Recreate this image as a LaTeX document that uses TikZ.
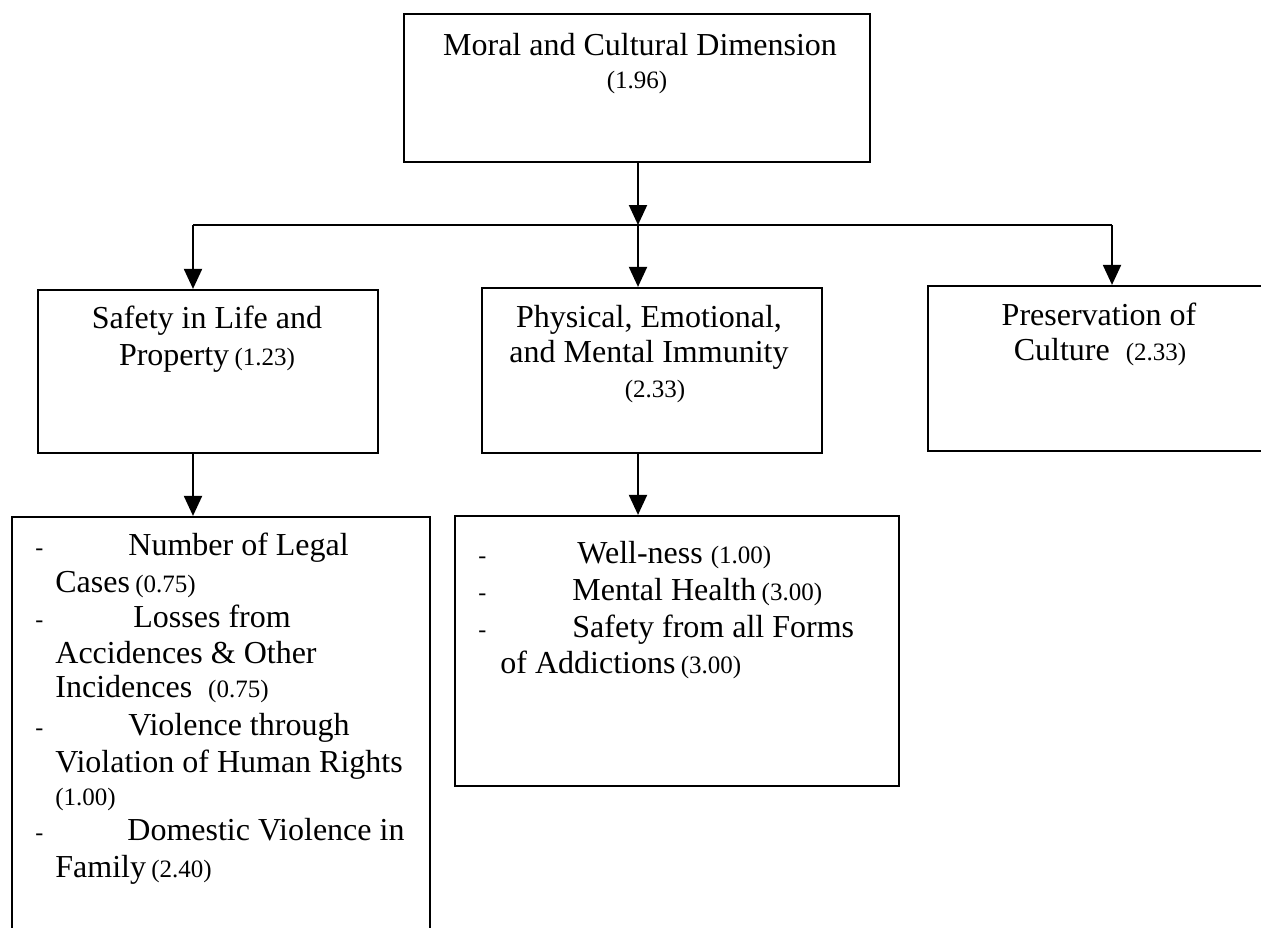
\documentclass[tikz,border=0pt]{standalone}
\usepackage{fontspec}
\setmainfont{Liberation Serif}
\usetikzlibrary{arrows.meta}
\newcommand\nm[1]{{\fontsize{12.5}{14}\selectfont #1}}
\begin{document}
\begin{tikzpicture}[x=0.5pt,y=-0.5pt,
  box/.style={draw,line width=1.1pt,inner sep=0pt},
  arr/.style={line width=1pt,-{Triangle[width=9pt,length=10pt]}},
  ln/.style={line width=1pt},
  tx/.style={inner sep=0pt,font=\fontsize{16}{18}\selectfont,anchor=base},
  tl/.style={inner sep=0pt,font=\fontsize{16}{18}\selectfont,anchor=base west},
  dl/.style={inner sep=0pt,font=\fontsize{12}{14}\selectfont,anchor=base west}]
\useasboundingbox (0,0) rectangle (1261,927);
\clip (0,0) rectangle (1261,927);
\fill[white] (0,0) rectangle (1261,927);
% boxes
\node[box,minimum width=233pt,minimum height=74pt] (top) at (637,88) {};
\node[box,minimum width=170pt,minimum height=81.5pt] (b2) at (208,371.5) {};
\node[box,minimum width=170pt,minimum height=82.5pt] (b3) at (652,370.5) {};
\node[box,minimum width=186pt,minimum height=82.5pt] (b4) at (1114,368.5) {};
\node[box,minimum width=209pt,minimum height=231.5pt] (b5) at (221,748.5) {};
\node[box,minimum width=222pt,minimum height=135pt] (b6) at (677,651) {};
% connectors
\coordinate (j) at (638,225);
\coordinate (hl) at (193,225);
\coordinate (hr) at (1112,225);
\draw[arr] (j |- top.south) -- (j);
\draw[ln] (hl) -- (hr);
\draw[arr] (hl) -- (hl |- b2.north);
\draw[arr] (j) -- (j |- b3.north);
\draw[arr] (hr) -- (hr |- b4.north);
\draw[arr] (hl |- b2.south) -- (hl |- b5.north);
\draw[arr] (j |- b3.south) -- (j |- b6.north);
% texts
\node[tx] (t1) at (640,55) {Moral and Cultural Dimension};
\node[tx] (t2) at (637,88) {\nm{(1.96)}};
\node[tx] (t3) at (207,328) {Safety in Life and};
\node[tx] (t4) at (207,365) {Property\,\nm{(1.23)}};
\node[tx] (t5) at (649,327) {Physical, Emotional,};
\node[tx] (t6) at (649,362) {and Mental Immunity};
\node[tx] (t7) at (655,397) {\nm{(2.33)}};
\node[tx] (t8) at (1099,325) {Preservation of};
\node[tx] (t9) at (1100,360) {Culture\ \ \nm{(2.33)}};
% box 5
\node[dl] (d1) at (35,555) {-};
\node[tl] (u1) at (128,555) {Number of Legal};
\node[tl] (u2) at (55,592) {Cases\,\nm{(0.75)}};
\node[dl] (d2) at (35,627) {-};
\node[tl] (u3) at (133,627) {Losses from};
\node[tl] (u4) at (55,663) {Accidences \& Other};
\node[tl] (u5) at (55,697) {Incidences\ \ \nm{(0.75)}};
\node[dl] (d3) at (35,735) {-};
\node[tl] (u6) at (128,735) {Violence through};
\node[tl] (u7) at (55,772) {Violation of Human Rights};
\node[tl] (u8) at (55,805) {\nm{(1.00)}};
\node[dl] (d4) at (35,840) {-};
\node[tl] (u9) at (127,840) {Domestic Violence in};
\node[tl] (u10) at (55,877) {Family\,\nm{(2.40)}};
% box 6
\node[dl] (e1) at (478,563) {-};
\node[tl] (v1) at (577,563) {Well-ness \nm{(1.00)}};
\node[dl] (e2) at (478,600) {-};
\node[tl] (v2) at (572,600) {Mental Health\,\nm{(3.00)}};
\node[dl] (e3) at (478,637) {-};
\node[tl] (v3) at (572,637) {Safety from all Forms};
\node[tl] (v4) at (500,673) {of Addictions\,\nm{(3.00)}};
\end{tikzpicture}
\end{document}
